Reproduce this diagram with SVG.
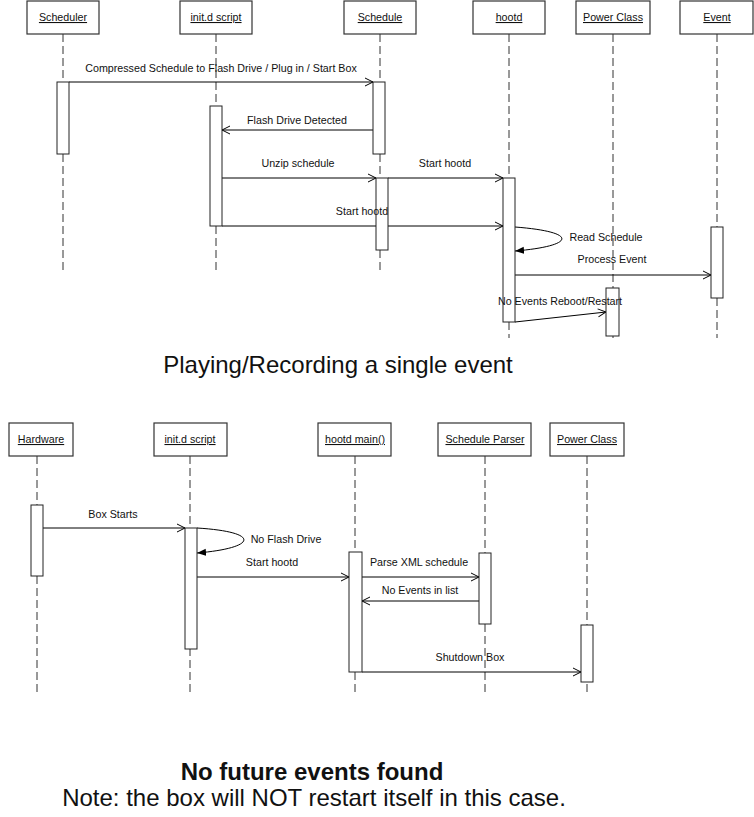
<svg xmlns="http://www.w3.org/2000/svg" width="754" height="817" viewBox="0 0 754 817">
<style>
text{font-family:"Liberation Sans",Arial,sans-serif;fill:#111}
.hd{fill:#fff;stroke:#333;stroke-width:1.2}
.hl{font-size:10.7px;text-anchor:middle;text-decoration:underline}
.ll{stroke:#333;stroke-width:1;stroke-dasharray:8 4;fill:none}
.act{fill:#fff;stroke:#222;stroke-width:1}
.msg{stroke:#000;stroke-width:1;fill:none;marker-end:url(#open)}
.self{stroke:#000;stroke-width:1;fill:none;marker-end:url(#fill)}
.lb{font-size:10.7px;text-anchor:middle}
.big{font-size:24px;text-anchor:middle}
</style>
<defs>
<marker id="open" viewBox="0 0 10 10" refX="10" refY="5" markerWidth="10" markerHeight="10" markerUnits="userSpaceOnUse" orient="auto">
<path d="M2,1 L10,5 L2,9" fill="none" stroke="#000" stroke-width="1"/>
</marker>
<marker id="fill" viewBox="0 0 10 10" refX="10" refY="5" markerWidth="9" markerHeight="9" markerUnits="userSpaceOnUse" orient="auto">
<path d="M0,1 L10,5 L0,9 z" fill="#000"/>
</marker>
</defs>
<rect width="754" height="817" fill="#fff"/>

<!-- lifelines -->
<g id="lifelines">
<line class="ll" x1="63" y1="34" x2="63" y2="270"/>
<line class="ll" x1="216" y1="34" x2="216" y2="270"/>
<line class="ll" x1="380" y1="34" x2="380" y2="270"/>
<line class="ll" x1="509" y1="34" x2="509" y2="338"/>
<line class="ll" x1="613" y1="34" x2="613" y2="338"/>
<line class="ll" x1="717" y1="34" x2="717" y2="338"/>
<line class="ll" x1="37" y1="456" x2="37" y2="692"/>
<line class="ll" x1="190" y1="456" x2="190" y2="692"/>
<line class="ll" x1="355" y1="456" x2="355" y2="692"/>
<line class="ll" x1="485" y1="456" x2="485" y2="692"/>
<line class="ll" x1="587" y1="456" x2="587" y2="692"/>
</g>

<!-- top section nodes -->
<g id="n-scheduler"><rect class="hd" x="27" y="1" width="72" height="33"/><text class="hl" x="63" y="21">Scheduler</text></g>
<g id="n-initd"><rect class="hd" x="180" y="1" width="72" height="33"/><text class="hl" x="216" y="21">init.d script</text></g>
<g id="n-schedule"><rect class="hd" x="344" y="1" width="72" height="33"/><text class="hl" x="380" y="21">Schedule</text></g>
<g id="n-hootd"><rect class="hd" x="473" y="1" width="72" height="33"/><text class="hl" x="509" y="21">hootd</text></g>
<g id="n-power"><rect class="hd" x="576" y="1" width="74" height="33"/><text class="hl" x="613" y="21">Power Class</text></g>
<g id="n-event"><rect class="hd" x="680" y="1" width="73" height="33"/><text class="hl" x="717" y="21">Event</text></g>

<!-- bottom section nodes -->
<g id="n-hardware"><rect class="hd" x="9" y="423" width="64" height="33"/><text class="hl" x="41" y="443">Hardware</text></g>
<g id="n-initd2"><rect class="hd" x="154" y="423" width="73" height="33"/><text class="hl" x="190" y="443">init.d script</text></g>
<g id="n-hootdmain"><rect class="hd" x="318" y="423" width="73" height="33"/><text class="hl" x="355" y="443">hootd main()</text></g>
<g id="n-parser"><rect class="hd" x="438" y="423" width="93" height="33"/><text class="hl" x="485" y="443">Schedule Parser</text></g>
<g id="n-power2"><rect class="hd" x="550" y="423" width="74" height="33"/><text class="hl" x="587" y="443">Power Class</text></g>

<!-- connectors -->
<g id="connectors">
<line class="msg" x1="69" y1="82" x2="373" y2="82"/>
<line class="msg" x1="373" y1="130" x2="222" y2="130"/>
<line class="msg" x1="222" y1="178" x2="376" y2="178"/>
<line class="msg" x1="388" y1="178" x2="503" y2="178"/>
<line class="msg" x1="222" y1="226" x2="503" y2="226"/>
<path class="self" d="M515,227 C580,232 575,246 515,251"/>
<line class="msg" x1="515" y1="275" x2="711" y2="275"/>
<line class="msg" x1="515" y1="322" x2="606" y2="312"/>

<line class="msg" x1="43" y1="528" x2="185" y2="528"/>
<path class="self" d="M197,528 C262,532 257,548 197,553"/>
<line class="msg" x1="197" y1="577" x2="349" y2="577"/>
<line class="msg" x1="362" y1="577" x2="479" y2="577"/>
<line class="msg" x1="479" y1="601" x2="362" y2="601"/>
<line class="msg" x1="362" y1="672" x2="581" y2="672"/>
</g>

<!-- activations -->
<g id="activations">
<rect class="act" x="57" y="82" width="12" height="72"/>
<rect class="act" x="210" y="106" width="12" height="120"/>
<rect class="act" x="373" y="82" width="12" height="72"/>
<rect class="act" x="376" y="178" width="12" height="72"/>
<rect class="act" x="503" y="178" width="12" height="144"/>
<rect class="act" x="711" y="227" width="12" height="71"/>
<rect class="act" x="606" y="288" width="13" height="48"/>

<rect class="act" x="31" y="505" width="12" height="71"/>
<rect class="act" x="185" y="528" width="12" height="121"/>
<rect class="act" x="349" y="552" width="13" height="120"/>
<rect class="act" x="479" y="553" width="12" height="71"/>
<rect class="act" x="581" y="625" width="12" height="57"/>
</g>

<!-- labels -->
<g id="labels">
<text class="lb" x="221" y="72">Compressed Schedule to Flash Drive / Plug in / Start Box</text>
<text class="lb" x="297" y="124">Flash Drive Detected</text>
<text class="lb" x="298" y="167">Unzip schedule</text>
<text class="lb" x="445" y="167">Start hootd</text>
<text class="lb" x="362" y="215">Start hootd</text>
<text class="lb" x="606" y="241">Read Schedule</text>
<text class="lb" x="612" y="263">Process Event</text>
<text class="lb" x="560" y="305">No Events Reboot/Restart</text>

<text class="lb" x="113" y="518">Box Starts</text>
<text class="lb" x="286" y="543">No Flash Drive</text>
<text class="lb" x="272" y="566">Start hootd</text>
<text class="lb" x="419" y="566">Parse XML schedule</text>
<text class="lb" x="420" y="594">No Events in list</text>
<text class="lb" x="470" y="661">Shutdown Box</text>
</g>

<text class="big" x="338" y="373">Playing/Recording a single event</text>
<text class="big" x="312" y="780" font-weight="bold">No future events found</text>
<text class="big" x="314" y="806">Note: the box will NOT restart itself in this case.</text>
</svg>
